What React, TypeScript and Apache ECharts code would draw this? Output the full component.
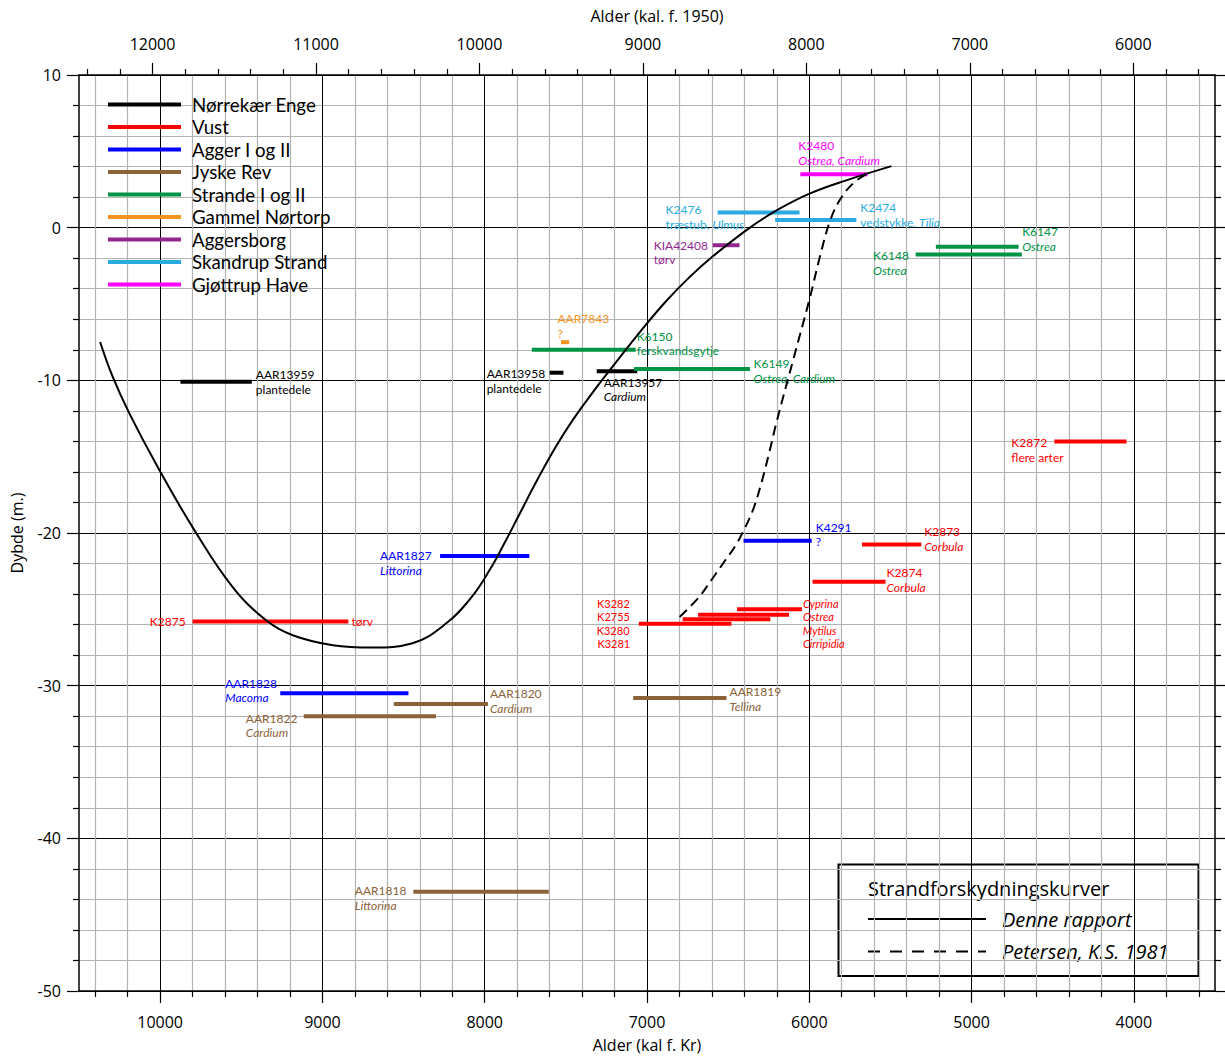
import { useEffect, useRef } from 'react';
import * as echarts from 'echarts';

const FONT = '"Open Sans", "Noto Sans", sans-serif';
const LABEL_FONT = 'Lato, "Open Sans", sans-serif';

// Sites (legend order) and their colours
const siteNames = [
  'Nørrekær Enge',
  'Vust',
  'Agger I og II',
  'Jyske Rev',
  'Strande I og II',
  'Gammel Nørtorp',
  'Aggersborg',
  'Skandrup Strand',
  'Gjøttrup Have',
];
const siteColors = ['#000000', '#ff0000', '#0000ff', '#8c6239', '#009245', '#f7931e', '#93278f', '#29abe2', '#ff00ff'];

// Dated samples: [lab no., oldest age, youngest age (kal f. Kr), depth (m), material]
// Text between underscores is a species name (set in italics).
type Sample = [string, number, number, number, string];

const norrekaerEnge: Sample[] = [
  ['AAR13959', 9875, 9435, -10.1, 'plantedele'],
  ['AAR13958', 7600, 7515, -9.5, 'plantedele'],
  ['AAR13957', 7310, 7060, -9.4, '_Cardium_'],
];
const vust: Sample[] = [
  ['K2875', 9800, 8840, -25.8, 'tørv'],
  ['K2872', 4490, 4045, -14.0, 'flere arter'],
  ['K2873', 5675, 5310, -20.75, '_Corbula_'],
  ['K2874', 5980, 5530, -23.2, '_Corbula_'],
  ['K3282', 6445, 6045, -25.0, '_Cyprina_'],
  ['K2755', 6685, 6125, -25.35, '_Ostrea_'],
  ['K3280', 6780, 6240, -25.65, '_Mytilus_'],
  ['K3281', 7050, 6480, -25.95, '_Cirripidia_'],
];
const agger: Sample[] = [
  ['AAR1827', 8275, 7725, -21.5, '_Littorina_'],
  ['K4291', 6405, 5985, -20.5, '?'],
  ['AAR1828', 9260, 8470, -30.5, '_Macoma_'],
];
const jyskeRev: Sample[] = [
  ['AAR1820', 8560, 7980, -31.2, '_Cardium_'],
  ['AAR1822', 9115, 8300, -32.0, '_Cardium_'],
  ['AAR1819', 7085, 6510, -30.8, '_Tellina_'],
  ['AAR1818', 8440, 7605, -43.5, '_Littorina_'],
];
const strande: Sample[] = [
  ['K6150', 7710, 7070, -8.0, 'ferskvandsgytje'],
  ['K6149', 7080, 6365, -9.25, '_Ostrea, Cardium_'],
  ['K6148', 5345, 4690, -1.75, '_Ostrea_'],
  ['K6147', 5220, 4710, -1.25, '_Ostrea_'],
];
const gammelNortorp: Sample[] = [['AAR7843', 7530, 7480, -7.5, '?']];
const aggersborg: Sample[] = [['KIA42408', 6595, 6430, -1.15, 'tørv']];
const skandrupStrand: Sample[] = [
  ['K2476', 6565, 6060, 1.0, 'træstub, _Ulmus_'],
  ['K2474', 6210, 5710, 0.5, 'vedstykke, _Tilia_'],
];
const gjottrupHave: Sample[] = [['K2480', 6055, 5640, 3.5, '_Ostrea, Cardium_']];

const siteSamples = [norrekaerEnge, vust, agger, jyskeRev, strande, gammelNortorp, aggersborg, skandrupStrand, gjottrupHave];

// Shoreline displacement curves: [age (kal f. Kr), level (m)]
const denneRapport: [number, number][] = [
  [10370, -7.49], [10292, -9.78], [10189, -12.18], [10004, -15.89], [9789, -19.81], [9553, -23.54],
  [9347, -25.72], [9183, -26.7], [8936, -27.35], [8690, -27.5], [8445, -27.22], [8235, -25.9],
  [8081, -24.2], [7970, -22.43], [7878, -20.66], [7786, -18.77], [7675, -16.5], [7563, -14.37],
  [7459, -12.62], [7324, -10.64], [7188, -8.78], [7034, -6.71], [6880, -4.79], [6738, -3.24],
  [6596, -1.89], [6368, -0.01], [6183, 1.24], [5998, 2.23], [5772, 3.1], [5494, 4.03],
];
const petersen1981: [number, number][] = [
  [6799, -25.5], [6682, -24.23], [6602, -23.06], [6522, -21.85], [6454, -20.81], [6393, -19.59],
  [6343, -18.38], [6294, -16.68], [6245, -14.65], [6202, -12.75], [6100, -8.69], [5998, -4.66],
  [5934, -1.88], [5875, 0.35], [5813, 1.79], [5730, 2.9], [5641, 3.56],
];

// Tick labels
const bcTicks = [10000, 9000, 8000, 7000, 6000, 5000, 4000];
const bpTicks = [12000, 11000, 10000, 9000, 8000, 7000, 6000];

// Label placement: bar end ('s' = older/left, 'e' = younger/right), pixel offset in x,
// and offset of the first text line's centre from the bar. 'tight' = small stacked text.
type Place = {
  end: 's' | 'e';
  dx: number;
  dy: number;
  part?: 'code' | 'mat';
  align?: 'left' | 'right';
  tight?: boolean;
};
const labelPlaces: Record<string, Place[]> = {
  AAR13959: [{ end: 'e', dx: 4, dy: -7 }],
  AAR13958: [{ end: 's', dx: -63, dy: 1 }],
  AAR13957: [{ end: 's', dx: 7, dy: 11 }],
  K2875: [
    { end: 's', dx: -7, dy: 0, part: 'code', align: 'right' },
    { end: 'e', dx: 3, dy: 0, part: 'mat' },
  ],
  K2872: [{ end: 's', dx: -43, dy: 1 }],
  K2873: [{ end: 'e', dx: 3, dy: -13 }],
  K2874: [{ end: 'e', dx: 1, dy: -9 }],
  K3282: [
    { end: 's', dx: -140, dy: -5.95, part: 'code', tight: true },
    { end: 'e', dx: 1, dy: -5.95, part: 'mat', tight: true },
  ],
  K2755: [
    { end: 's', dx: -101, dy: 2.1, part: 'code', tight: true },
    { end: 'e', dx: 14, dy: 2.1, part: 'mat', tight: true },
  ],
  K3280: [
    { end: 's', dx: -86, dy: 10.9, part: 'code', tight: true },
    { end: 'e', dx: 32.5, dy: 10.9, part: 'mat', tight: true },
  ],
  K3281: [
    { end: 's', dx: -41.5, dy: 19.7, part: 'code', tight: true },
    { end: 'e', dx: 71.5, dy: 19.7, part: 'mat', tight: true },
  ],
  AAR1827: [{ end: 's', dx: -60, dy: 0 }],
  K4291: [{ end: 'e', dx: 4, dy: -13.5 }],
  AAR1828: [{ end: 's', dx: -55, dy: -10 }],
  AAR1820: [{ end: 'e', dx: 2, dy: -10.5 }],
  AAR1822: [{ end: 's', dx: -58, dy: 2 }],
  AAR1819: [{ end: 'e', dx: 3, dy: -6 }],
  AAR1818: [{ end: 's', dx: -58.5, dy: -1 }],
  K6150: [{ end: 'e', dx: 1, dy: -13.5 }],
  K6149: [{ end: 'e', dx: 3.5, dy: -5 }],
  K6148: [{ end: 's', dx: -42.5, dy: 1.5 }],
  K6147: [{ end: 'e', dx: 3.5, dy: -15 }],
  AAR7843: [{ end: 's', dx: -3.5, dy: -23.5 }],
  KIA42408: [{ end: 's', dx: -59, dy: 0 }],
  K2476: [{ end: 's', dx: -52, dy: -2.5 }],
  K2474: [{ end: 'e', dx: 4, dy: -12.5 }],
  K2480: [{ end: 's', dx: -2, dy: -28.5 }],
};

const LABEL_SIZE = 12;
const LABEL_GAP = 14.6; // distance between the two lines of a label
const TIGHT_SIZE = 11;

function richStyles(fontSize: number) {
  return {
    c: { fontSize, fontFamily: LABEL_FONT },
    n: { fontSize, fontFamily: LABEL_FONT },
    i: { fontSize, fontFamily: LABEL_FONT, fontStyle: 'italic' },
  };
}

function richMaterial(m: string): string {
  return m
    .split('_')
    .map((s, i) => (s ? `{${i % 2 ? 'i' : 'n'}|${s}}` : ''))
    .join('');
}

function siteSeries(i: number) {
  const samples = siteSamples[i];
  const color = siteColors[i];
  return {
    type: 'custom',
    name: siteNames[i],
    xAxisIndex: 0,
    yAxisIndex: 0,
    itemStyle: { color },
    encode: { x: [0, 1], y: 2 },
    data: samples.map((s) => [s[1], s[2], s[3]]),
    z: 3,
    silent: true,
    renderItem: (params: any, api: any) => {
      const s = samples[params.dataIndex];
      const y = api.value(2);
      const a = api.coord([api.value(0), y]);
      const b = api.coord([api.value(1), y]);
      const children: any[] = [
        {
          type: 'line',
          shape: { x1: a[0], y1: a[1], x2: b[0], y2: b[1] },
          style: { stroke: color, lineWidth: 4 },
        },
      ];
      for (const p of labelPlaces[s[0]] || []) {
        const anchor = p.end === 's' ? a : b;
        const size = p.tight ? TIGHT_SIZE : LABEL_SIZE;
        const lines =
          p.part === 'code'
            ? [`{c|${s[0]}}`]
            : p.part === 'mat'
            ? [richMaterial(s[4])]
            : [`{c|${s[0]}}`, richMaterial(s[4])];
        lines.forEach((text, k) => {
          children.push({
            type: 'text',
            x: anchor[0] + p.dx,
            y: anchor[1] + p.dy + k * LABEL_GAP,
            style: {
              text,
              rich: richStyles(size),
              fill: color,
              align: p.align || 'left',
              verticalAlign: 'middle',
              fontSize: size,
              fontFamily: LABEL_FONT,
            },
          });
        });
      }
      return { type: 'group', children };
    },
  };
}

const BLACK = '#000000';
const MINOR_GRID = '#b3b3b3';

function buildOption(): any {
  const tickText = { fontSize: 16, color: BLACK, fontFamily: FONT };
  const axisLine = { show: true, onZero: false, lineStyle: { color: BLACK, width: 1.5 } };
  const tickLine = { color: BLACK, width: 1.2 };
  return {
    animation: false,
    backgroundColor: '#ffffff',
    textStyle: { fontFamily: FONT },
    grid: { left: 79, top: 75, right: 10, bottom: 65, containLabel: false, outerBoundsMode: 'none' },
    legend: {
      data: siteNames,
      orient: 'vertical',
      left: 108,
      top: 93.5,
      padding: 0,
      icon: 'rect',
      itemWidth: 73,
      itemHeight: 4,
      itemGap: 0.5,
      selectedMode: false,
      textStyle: { fontSize: 18.7, fontFamily: LABEL_FONT, color: BLACK, lineHeight: 22, padding: [0, 0, 0, 6] },
    },
    xAxis: [
      {
        type: 'value',
        position: 'bottom',
        min: 3500,
        max: 10500,
        inverse: true,
        minInterval: 1000,
        maxInterval: 1000,
        name: 'Alder (kal f. Kr)',
        nameLocation: 'middle',
        nameGap: 46,
        nameTextStyle: { ...tickText },
        axisLine,
        axisTick: { show: true, inside: false, length: 12, lineStyle: tickLine, customValues: bcTicks },
        minorTick: { show: true, splitNumber: 5, length: 6, lineStyle: tickLine },
        axisLabel: { show: true, margin: 23, ...tickText, customValues: bcTicks, formatter: (v: number) => String(v) },
        splitLine: { show: true, lineStyle: { color: BLACK, width: 1 } },
        minorSplitLine: { show: true, lineStyle: { color: MINOR_GRID, width: 1.2 } },
      },
      {
        type: 'value',
        position: 'top',
        min: 5500,
        max: 12450,
        inverse: true,
        minInterval: 1000,
        maxInterval: 1000,
        name: 'Alder (kal. f. 1950)',
        nameLocation: 'middle',
        nameGap: 51,
        nameTextStyle: { ...tickText, padding: [0, 0, 0, 20] },
        axisLine,
        axisTick: { show: true, inside: false, length: 12, lineStyle: tickLine, customValues: bpTicks },
        minorTick: { show: true, splitNumber: 5, length: 6, lineStyle: tickLine },
        axisLabel: { show: true, margin: 23, ...tickText, customValues: bpTicks, formatter: (v: number) => String(v) },
        splitLine: { show: false },
        minorSplitLine: { show: false },
      },
    ],
    yAxis: [
      {
        type: 'value',
        position: 'left',
        min: -50,
        max: 10,
        interval: 10,
        name: 'Dybde (m.)',
        nameLocation: 'middle',
        nameGap: 54,
        nameRotate: 90,
        nameTextStyle: { ...tickText },
        axisLine,
        axisTick: { show: true, inside: false, length: 12, lineStyle: tickLine },
        minorTick: { show: true, splitNumber: 5, length: 6, lineStyle: tickLine },
        axisLabel: { show: true, margin: 18, ...tickText, formatter: (v: number) => String(v) },
        splitLine: { show: true, lineStyle: { color: BLACK, width: 1 } },
        minorSplitLine: { show: true, lineStyle: { color: MINOR_GRID, width: 1.2 } },
      },
      {
        type: 'value',
        position: 'right',
        min: -50,
        max: 10,
        interval: 10,
        axisLine,
        axisTick: { show: true, inside: false, length: 12, lineStyle: tickLine },
        minorTick: { show: true, splitNumber: 5, length: 6, lineStyle: tickLine },
        axisLabel: { show: false },
        splitLine: { show: false },
        minorSplitLine: { show: false },
      },
    ],
    series: [
      ...siteNames.map((_, i) => siteSeries(i)),
      {
        type: 'line',
        name: 'Denne rapport',
        data: denneRapport,
        xAxisIndex: 0,
        yAxisIndex: 0,
        showSymbol: false,
        symbol: 'none',
        smooth: 0.4,
        silent: true,
        z: 5,
        lineStyle: { color: BLACK, width: 2 },
      },
      {
        type: 'line',
        name: 'Petersen, K.S. 1981',
        data: petersen1981,
        xAxisIndex: 0,
        yAxisIndex: 0,
        showSymbol: false,
        symbol: 'none',
        smooth: 0.4,
        silent: true,
        z: 5,
        lineStyle: { color: BLACK, width: 2, type: [10, 6] },
      },
    ],
    graphic: [
      {
        type: 'group',
        z: 20,
        children: [
          {
            type: 'rect',
            shape: { x: 838.5, y: 864.5, width: 360, height: 111.5 },
            style: { fill: '#ffffff', stroke: BLACK, lineWidth: 2 },
          },
          {
            type: 'text',
            x: 868,
            y: 888,
            style: { text: 'Strandforskydningskurver', fontSize: 20, fontFamily: FONT, fill: BLACK, verticalAlign: 'middle' },
          },
          {
            type: 'line',
            shape: { x1: 868, y1: 919, x2: 986, y2: 919 },
            style: { stroke: BLACK, lineWidth: 1.8 },
          },
          {
            type: 'text',
            x: 1002,
            y: 919,
            style: { text: 'Denne rapport', fontSize: 20, fontStyle: 'italic', fontFamily: FONT, fill: BLACK, verticalAlign: 'middle' },
          },
          {
            type: 'line',
            shape: { x1: 868, y1: 951.5, x2: 986, y2: 951.5 },
            style: { stroke: BLACK, lineWidth: 1.8, lineDash: [12, 10] },
          },
          {
            type: 'text',
            x: 1002,
            y: 951.5,
            style: { text: 'Petersen, K.S. 1981', fontSize: 20, fontStyle: 'italic', fontFamily: FONT, fill: BLACK, verticalAlign: 'middle' },
          },
        ],
      },
    ],
  };
}

export default function App() {
  const ref = useRef<HTMLDivElement>(null);
  useEffect(() => {
    if (!ref.current) return;
    const chart = echarts.init(ref.current, undefined, { renderer: 'svg' });
    chart.setOption(buildOption());
    return () => chart.dispose();
  }, []);
  return (
    <div
      ref={ref}
      style={{ position: 'absolute', left: 0, top: 0, width: 1225, height: 1056, background: '#ffffff' }}
    />
  );
}
